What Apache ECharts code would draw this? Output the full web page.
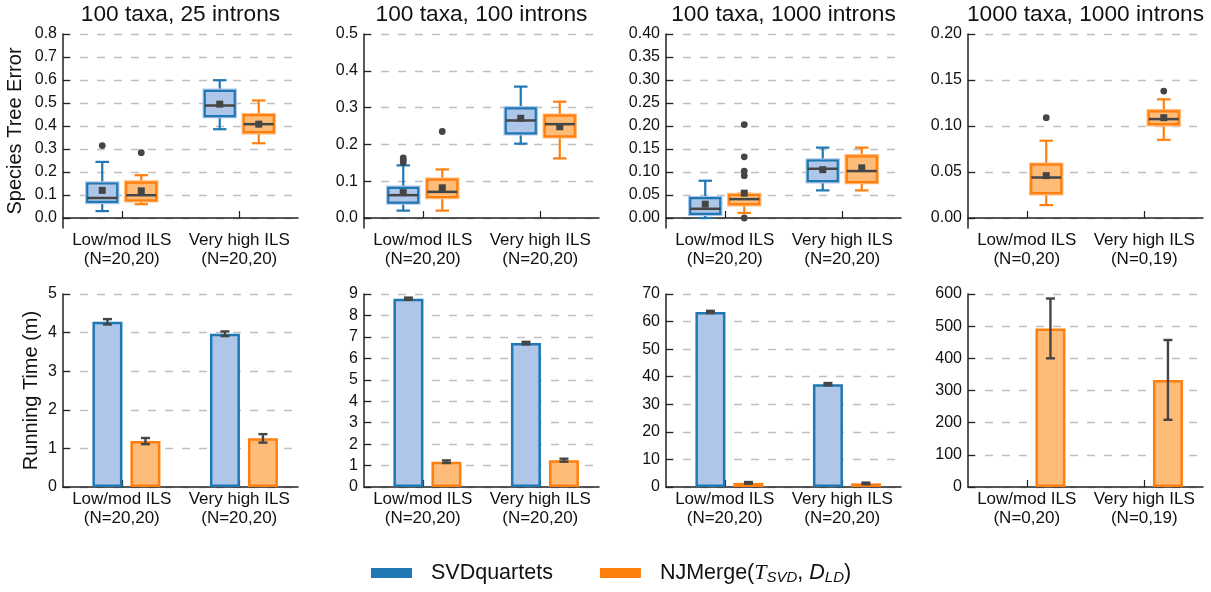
<!DOCTYPE html>
<html>
<head>
<meta charset="utf-8">
<script src="https://cdn.jsdelivr.net/npm/echarts@6/dist/echarts.min.js"></script>
<style>
html,body{margin:0;padding:0;background:#fff;}
#chart{width:1211px;height:592px;}
</style>
</head>
<body>
<div id="chart"></div>
<script>
// ---------------- DATA ----------------
const panelTitles = ['100 taxa, 25 introns', '100 taxa, 100 introns', '100 taxa, 1000 introns', '1000 taxa, 1000 introns'];
const groupNames = ['Low/mod ILS', 'Very high ILS'];
const sampleSizes = [
  ['N=20,20', 'N=20,20'],
  ['N=20,20', 'N=20,20'],
  ['N=20,20', 'N=20,20'],
  ['N=0,20', 'N=0,19']
];
const methodNames = ['SVDquartets', 'NJMerge'];

// Species tree error tick labels per panel
const errorTicks = [
  [0.0, 0.1, 0.2, 0.3, 0.4, 0.5, 0.6, 0.7, 0.8],
  [0.0, 0.1, 0.2, 0.3, 0.4, 0.5],
  [0.00, 0.05, 0.10, 0.15, 0.20, 0.25, 0.30, 0.35, 0.40],
  [0.00, 0.05, 0.10, 0.15, 0.20]
];
const errorLabelDecimals = [1, 1, 2, 2];
// Running time tick labels per panel
const timeTicks = [
  [0, 1, 2, 3, 4, 5],
  [0, 1, 2, 3, 4, 5, 6, 7, 8, 9],
  [0, 10, 20, 30, 40, 50, 60, 70],
  [0, 100, 200, 300, 400, 500, 600]
];

// Box stats: [category index, lower whisker, Q1, median, Q3, upper whisker, mean]
const svdBoxStats = [
  [[0, 0.030, 0.070, 0.087, 0.150, 0.244, 0.120], [1, 0.386, 0.443, 0.489, 0.553, 0.599, 0.495]],
  [[0, 0.020, 0.042, 0.062, 0.082, 0.143, 0.069], [1, 0.202, 0.230, 0.265, 0.298, 0.357, 0.271]],
  [[0, 0.000, 0.009, 0.020, 0.043, 0.081, 0.030], [1, 0.060, 0.080, 0.107, 0.125, 0.153, 0.105]],
  []
];
const njBoxStats = [
  [[0, 0.060, 0.077, 0.099, 0.154, 0.186, 0.118], [1, 0.325, 0.373, 0.408, 0.447, 0.511, 0.408]],
  [[0, 0.020, 0.057, 0.071, 0.104, 0.132, 0.082], [1, 0.162, 0.222, 0.255, 0.278, 0.316, 0.248]],
  [[0, 0.011, 0.030, 0.041, 0.050, 0.053, 0.054], [1, 0.060, 0.078, 0.102, 0.134, 0.153, 0.109]],
  [[0, 0.014, 0.027, 0.044, 0.058, 0.084, 0.046], [1, 0.085, 0.102, 0.1075, 0.116, 0.129, 0.109]]
];
// Outliers: [category index, value]
const svdOutliers = [
  [[0, 0.315]],
  [[0, 0.150], [0, 0.157], [0, 0.163]],
  [],
  []
];
const njOutliers = [
  [[0, 0.284]],
  [[0, 0.235]],
  [[0, 0.000], [0, 0.092], [0, 0.102], [0, 0.133], [0, 0.203]],
  [[0, 0.109], [1, 0.138]]
];

// Running time (minutes): mean and error half-width per group
const svdTimeMean = [[4.28, 3.97], [8.78, 6.71], [63.5, 37.3], [null, null]];
const svdTimeErr  = [[0.07, 0.06], [0.05, 0.06], [0.4, 0.4], [null, null]];
const njTimeMean  = [[1.19, 1.26], [1.18, 1.25], [1.5, 1.3], [493, 333]];
const njTimeErr   = [[0.08, 0.11], [0.06, 0.07], [0.3, 0.3], [93, 124]];

// ---------------- STYLE ----------------
const FONT = '"Liberation Sans", Arial, Helvetica, sans-serif';
const BLUE = '#1f77b4', BLUE_L = '#aec7e8', ORANGE = '#ff7f0e', ORANGE_L = '#ffbb78';
const DARK = '#454545', TEXT = '#111111', AXIS = '#222222', GRIDC = '#c0c0c0';
const GRID_LEFT = [63, 364, 666, 968], GRID_W = 235;
const TOP_ROW = {top: 34, height: 194}, BOT_ROW = {top: 294, height: 193};
const AXIS_PAD = 0.0544;          // matplotlib-like margin below zero in the top row
const BOX_OFFSET_FRAC = 0.166, BOX_W_FRAC = 0.255, CAP_FRAC = 0.45;
const BAR_W = 30, SPACER_W = 7.4, GAP_P = 8 / 30, ERR_CAP = 9;

// bar offsets (mirrors ECharts bar layout: spacer, blue, orange)
const totalBarW = SPACER_W * (1 + GAP_P) + BAR_W * (1 + GAP_P) + BAR_W;
const blueBarOffset = -totalBarW / 2 + SPACER_W * (1 + GAP_P) + BAR_W / 2;
const orangeBarOffset = blueBarOffset + BAR_W * (1 + GAP_P);

function boxRenderer(sign, col, light) {
  return function (params, api) {
    const cat = api.value(0);
    const band = api.size([1, 0])[0];
    const cx = api.coord([cat, 0])[0] + sign * band * BOX_OFFSET_FRAC;
    const w = band * BOX_W_FRAC, cap = w * CAP_FRAC;
    const y = v => api.coord([cat, v])[1];
    const lo = y(api.value(1)), q1 = y(api.value(2)), med = y(api.value(3)),
          q3 = y(api.value(4)), hi = y(api.value(5)), mean = y(api.value(6));
    const ls = {stroke: col, lineWidth: 2.2};
    return {type: 'group', children: [
      {type: 'line', shape: {x1: cx, y1: hi, x2: cx, y2: q3}, style: ls},
      {type: 'line', shape: {x1: cx, y1: q1, x2: cx, y2: lo}, style: ls},
      {type: 'line', shape: {x1: cx - cap / 2, y1: hi, x2: cx + cap / 2, y2: hi}, style: ls},
      {type: 'line', shape: {x1: cx - cap / 2, y1: lo, x2: cx + cap / 2, y2: lo}, style: ls},
      {type: 'rect', shape: {x: cx - w / 2, y: q3, width: w, height: q1 - q3}, style: {fill: 'none', stroke: light, lineWidth: 4.5}},
      {type: 'rect', shape: {x: cx - w / 2, y: q3, width: w, height: q1 - q3}, style: {fill: light, stroke: col, lineWidth: 2.2}},
      {type: 'line', shape: {x1: cx - w / 2, y1: med, x2: cx + w / 2, y2: med}, style: {stroke: DARK, lineWidth: 2.5}},
      {type: 'rect', shape: {x: cx - 3.5, y: mean - 3.5, width: 7, height: 7}, style: {fill: DARK}}
    ]};
  };
}
function outlierRenderer(sign) {
  return function (params, api) {
    const cat = api.value(0);
    const band = api.size([1, 0])[0];
    const p = api.coord([cat, api.value(1)]);
    return {type: 'circle', shape: {cx: p[0] + sign * band * BOX_OFFSET_FRAC, cy: p[1], r: 3.4}, style: {fill: DARK}};
  };
}
function errRenderer(offsetPx) {
  return function (params, api) {
    const cat = api.value(0), m = api.value(1), e = api.value(2);
    const x = api.coord([cat, m])[0] + offsetPx;
    const yT = api.coord([cat, m + e])[1], yB = api.coord([cat, m - e])[1];
    const ls = {stroke: DARK, lineWidth: 2.4};
    return {type: 'group', children: [
      {type: 'line', shape: {x1: x, y1: yT, x2: x, y2: yB}, style: ls},
      {type: 'line', shape: {x1: x - ERR_CAP / 2, y1: yT, x2: x + ERR_CAP / 2, y2: yT}, style: ls},
      {type: 'line', shape: {x1: x - ERR_CAP / 2, y1: yB, x2: x + ERR_CAP / 2, y2: yB}, style: ls}
    ]};
  };
}

const grids = [], xAxes = [], yAxes = [], series = [], titles = [];
for (let r = 0; r < 2; r++) {
  for (let p = 0; p < 4; p++) {
    const idx = r * 4 + p;
    const row = r === 0 ? TOP_ROW : BOT_ROW;
    grids.push({left: GRID_LEFT[p], width: GRID_W, top: row.top, height: row.height, containLabel: false});
    xAxes.push({
      type: 'category', gridIndex: idx, boundaryGap: true,
      data: groupNames.map((g, i) => g + '\n(' + sampleSizes[p][i] + ')'),
      axisLine: {show: true, lineStyle: {color: AXIS, width: 1.5}},
      axisTick: {show: true, alignWithLabel: true, inside: true, length: 7, lineStyle: {color: AXIS, width: 1.2}},
      axisLabel: {color: TEXT, fontSize: 17, fontFamily: FONT, lineHeight: 19, margin: 3, interval: 0},
      splitLine: {show: false}
    });
    const common = {
      type: 'value', gridIndex: idx,
      axisLine: {show: true, lineStyle: {color: AXIS, width: 1.5}},
      splitLine: {show: true, lineStyle: {color: GRIDC, type: [8, 9], width: 1.3}},
      nameLocation: 'middle',
      nameTextStyle: {fontSize: 20, color: TEXT, fontFamily: FONT}
    };
    if (r === 0) {
      const ticks = errorTicks[p];
      const mx = ticks[ticks.length - 1];
      const dec = errorLabelDecimals[p];
      yAxes.push(Object.assign({}, common, {
        min: -mx * AXIS_PAD, max: mx,
        axisTick: {show: true, inside: true, length: 7, customValues: ticks, lineStyle: {color: AXIS, width: 1.2}},
        axisLabel: {customValues: ticks, formatter: v => Number(v).toFixed(dec), color: TEXT, fontSize: 16, fontFamily: FONT, margin: 6},
        name: p === 0 ? 'Species Tree Error' : '', nameGap: 38
      }));
    } else {
      const ticks = timeTicks[p];
      yAxes.push(Object.assign({}, common, {
        min: 0, max: ticks[ticks.length - 1], interval: ticks[1] - ticks[0],
        axisTick: {show: true, inside: true, length: 7, lineStyle: {color: AXIS, width: 1.2}},
        axisLabel: {color: TEXT, fontSize: 16, fontFamily: FONT, margin: 6},
        name: p === 0 ? 'Running Time (m)' : '', nameGap: 22
      }));
    }
  }
}

for (let p = 0; p < 4; p++) {
  titles.push({
    text: panelTitles[p], left: GRID_LEFT[p] + GRID_W / 2, top: 3, textAlign: 'center', padding: 0,
    textStyle: {fontSize: 22.7, fontWeight: 'normal', color: TEXT, fontFamily: FONT}
  });
  // top row: boxes
  series.push({name: methodNames[0], type: 'custom', xAxisIndex: p, yAxisIndex: p, z: 3,
    encode: {x: 0, y: [1, 2, 3, 4, 5, 6]}, itemStyle: {color: BLUE},
    renderItem: boxRenderer(-1, BLUE, BLUE_L), data: svdBoxStats[p]});
  series.push({name: methodNames[1], type: 'custom', xAxisIndex: p, yAxisIndex: p, z: 3,
    encode: {x: 0, y: [1, 2, 3, 4, 5, 6]}, itemStyle: {color: ORANGE},
    renderItem: boxRenderer(1, ORANGE, ORANGE_L), data: njBoxStats[p]});
  series.push({name: methodNames[0], type: 'custom', xAxisIndex: p, yAxisIndex: p, z: 4,
    encode: {x: 0, y: 1}, itemStyle: {color: BLUE},
    renderItem: outlierRenderer(-1), data: svdOutliers[p]});
  series.push({name: methodNames[1], type: 'custom', xAxisIndex: p, yAxisIndex: p, z: 4,
    encode: {x: 0, y: 1}, itemStyle: {color: ORANGE},
    renderItem: outlierRenderer(1), data: njOutliers[p]});
  // bottom row: bars
  const bi = 4 + p;
  series.push({name: 'spacer', type: 'bar', xAxisIndex: bi, yAxisIndex: bi, barWidth: SPACER_W, barGap: (GAP_P * 100) + '%',
    data: [null, null], itemStyle: {color: 'rgba(0,0,0,0)'}, silent: true});
  series.push({name: methodNames[0], type: 'bar', xAxisIndex: bi, yAxisIndex: bi, barWidth: BAR_W, barGap: (GAP_P * 100) + '%',
    data: svdTimeMean[p], itemStyle: {color: BLUE_L, borderColor: BLUE, borderWidth: 2.5}, z: 2});
  series.push({name: methodNames[1], type: 'bar', xAxisIndex: bi, yAxisIndex: bi, barWidth: BAR_W, barGap: (GAP_P * 100) + '%',
    data: njTimeMean[p], itemStyle: {color: ORANGE_L, borderColor: ORANGE, borderWidth: 2.5}, z: 2});
  series.push({name: methodNames[0], type: 'custom', xAxisIndex: bi, yAxisIndex: bi, z: 5,
    encode: {x: 0, y: 1}, itemStyle: {color: BLUE}, renderItem: errRenderer(blueBarOffset),
    data: svdTimeMean[p].map((m, i) => [i, m, svdTimeErr[p][i]]).filter(d => d[1] != null)});
  series.push({name: methodNames[1], type: 'custom', xAxisIndex: bi, yAxisIndex: bi, z: 5,
    encode: {x: 0, y: 1}, itemStyle: {color: ORANGE}, renderItem: errRenderer(orangeBarOffset),
    data: njTimeMean[p].map((m, i) => [i, m, njTimeErr[p][i]]).filter(d => d[1] != null)});
}

const option = {
  animation: false,
  backgroundColor: '#ffffff',
  title: titles,
  grid: grids,
  xAxis: xAxes,
  yAxis: yAxes,
  legend: {
    left: 371, top: 562, orient: 'horizontal', icon: 'rect', padding: 0,
    itemWidth: 41, itemHeight: 10, itemGap: 47,
    data: [
      {name: methodNames[0], itemStyle: {color: BLUE, borderWidth: 0}},
      {name: methodNames[1], itemStyle: {color: ORANGE, borderWidth: 0}}
    ],
    formatter: name => name === methodNames[0]
      ? '{sp| }{t|SVDquartets}'
      : '{sp| }{t|NJMerge(}{cal|T}{sub|SVD}{t|, }{it|D}{sub|LD}{t|)}',
    textStyle: {
      color: TEXT,
      rich: {
        sp: {width: 14, fontSize: 10},
        t: {fontSize: 21.5, fontFamily: FONT, color: TEXT, lineHeight: 24, verticalAlign: 'middle'},
        cal: {fontSize: 22, fontFamily: '"Liberation Serif", "DejaVu Serif", serif', fontStyle: 'italic', color: TEXT, lineHeight: 24, verticalAlign: 'middle'},
        it: {fontSize: 21.5, fontFamily: FONT, fontStyle: 'italic', color: TEXT, lineHeight: 24, verticalAlign: 'middle'},
        sub: {fontSize: 15, fontFamily: FONT, fontStyle: 'italic', color: TEXT, lineHeight: 14, verticalAlign: 'bottom'}
      }
    }
  },
  series: series
};

const chart = echarts.init(document.getElementById('chart'), null, {renderer: 'canvas'});
chart.setOption(option);
</script>
</body>
</html>
